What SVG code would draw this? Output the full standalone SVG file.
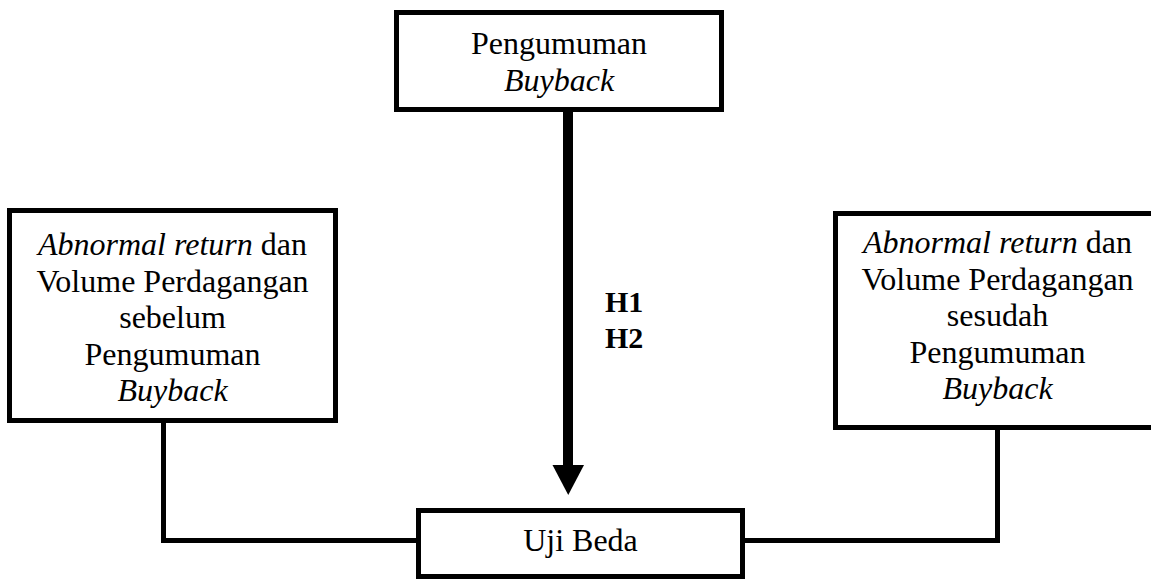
<svg xmlns="http://www.w3.org/2000/svg" width="1151" height="579" viewBox="0 0 1151 579">
<style>
.box{fill:#fff;stroke:#000;stroke-width:5}
.t{font-family:"Liberation Serif","Times New Roman",serif;font-size:32px;fill:#000;text-anchor:middle}
.i{font-style:italic}
.h{font-family:"Liberation Serif","Times New Roman",serif;font-size:30px;font-weight:bold;fill:#000}
.c{fill:none;stroke:#000;stroke-width:5}
</style>
<rect width="1151" height="579" fill="#fff"/>
<g id="connectors">
<path class="c" d="M163.5 423 V540.5 H418"/>
<path class="c" d="M744 540.5 H997.5 V430"/>
<rect x="563" y="111" width="10" height="356" fill="#000"/>
<polygon points="552.5,465 584,465 568.25,495" fill="#000"/>
<text class="h" x="605" y="312">H1</text>
<text class="h" x="605" y="348">H2</text>
</g>
<g id="pengumuman">
<rect class="box" x="396.5" y="12.5" width="325" height="97"/>
<text class="t" x="559" y="54">Pengumuman</text>
<text class="t i" x="559" y="91">Buyback</text>
</g>
<g id="sebelum">
<rect class="box" x="9.5" y="210.5" width="326" height="210"/>
<text class="t" x="172.5" y="255"><tspan class="i">Abnormal return</tspan> dan</text>
<text class="t" x="172.5" y="291.5">Volume Perdagangan</text>
<text class="t" x="172.5" y="328">sebelum</text>
<text class="t" x="172.5" y="364.5">Pengumuman</text>
<text class="t i" x="172.5" y="401">Buyback</text>
</g>
<g id="sesudah">
<rect class="box" x="835.5" y="213.5" width="325" height="214"/>
<text class="t" x="997.5" y="253"><tspan class="i">Abnormal return</tspan> dan</text>
<text class="t" x="997.5" y="289.5">Volume Perdagangan</text>
<text class="t" x="997.5" y="326">sesudah</text>
<text class="t" x="997.5" y="362.5">Pengumuman</text>
<text class="t i" x="997.5" y="399">Buyback</text>
</g>
<g id="ujibeda">
<rect class="box" x="418.5" y="510.5" width="324" height="66"/>
<text class="t" x="580.5" y="551">Uji Beda</text>
</g>
</svg>
